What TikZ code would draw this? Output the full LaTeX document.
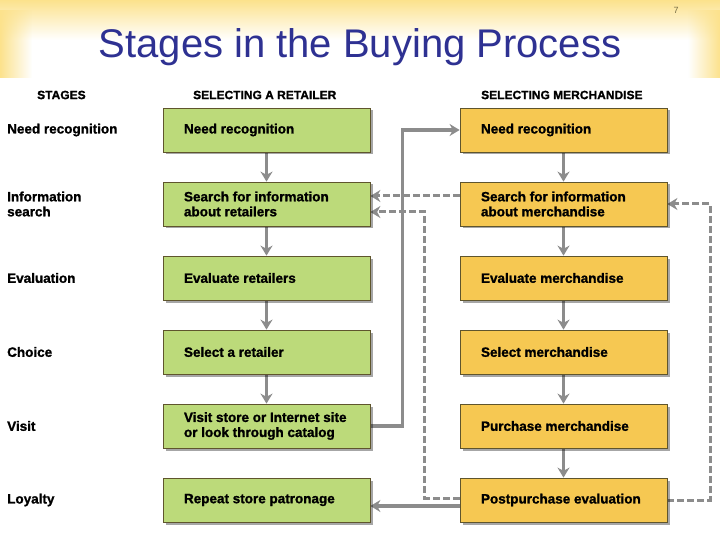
\documentclass[tikz,border=0pt]{standalone}
\usepackage{fontspec}
\setmainfont{Liberation Sans}[BoldFeatures={FakeBold=1.2}]
\usetikzlibrary{arrows.meta,shadows,fadings}
\pgfdeclarelayer{back}
\pgfdeclarelayer{bg}
\pgfsetlayers{back,bg,main}
\definecolor{boxgreen}{RGB}{188,218,122}
\definecolor{boxyellow}{RGB}{246,200,82}
\definecolor{boxline}{RGB}{95,85,45}
\definecolor{flowgray}{RGB}{140,140,140}
\definecolor{titleblue}{RGB}{46,49,146}
\definecolor{slideyellow}{RGB}{252,226,140}
\definecolor{pagecol}{RGB}{120,110,70}
\tikzfading[name=fadeout right, left color=transparent!0, right color=transparent!100]
\tikzfading[name=fadeout left, left color=transparent!100, right color=transparent!0]
\tikzset{
    every node/.style={inner sep=0pt, font=\bfseries\fontsize{13.5}{15}\selectfont}
}
\tikzset{
    stage/.style={anchor=west, align=left},
    head/.style={anchor=west, font=\bfseries\fontsize{12}{14}\selectfont},
    stepbox/.style={rectangle, draw=boxline, line width=0.8pt, minimum width=207pt,
        minimum height=44pt, text width=165pt, inner xsep=21pt, align=flush left,
        drop shadow={shadow xshift=2.5pt, shadow yshift=-2.5pt, fill=black, opacity=0.35}},
    retailer/.style={stepbox, fill=boxgreen},
    merch/.style={stepbox, fill=boxyellow},
    flow/.style={draw=flowgray, line width=3.5pt, -{Stealth[length=10pt, width=12pt]}},
    backflow/.style={draw=flowgray, line width=3pt, dash pattern=on 7pt off 3pt,
        -{Stealth[length=10pt, width=12pt]}}
}

\begin{document}
\begin{tikzpicture}[x=1pt, y=-1pt]
        \useasboundingbox (0,0) rectangle (720,540);
        \begin{pgfonlayer}{back}
                \fill[white] (0,0) rectangle (720,540);
                \shade[top color=slideyellow, bottom color=white] (0,0) rectangle (720,40);
                \fill[slideyellow, path fading=fadeout right] (0,10) rectangle (32,78);
                \fill[slideyellow, path fading=fadeout left] (688,10) rectangle (720,78);
        \end{pgfonlayer}

        \node (title) [font=\fontsize{40}{44}\selectfont, text=titleblue, anchor=base] at (360,58) {Stages in the Buying Process};
        \node (page) [font=\fontsize{9}{10}\selectfont, text=pagecol] at (676,10) {7};

        \node (h0) [head] at (37,95) {STAGES};
        \node (h1) [head] at (193,95) {SELECTING A RETAILER};
        \node (h2) [head] at (481,95) {SELECTING MERCHANDISE};

        \node (s1) [stage] at (7,130) {Need recognition};
        \node (s2) [stage] at (7,204) {Information\\search};
        \node (s3) [stage] at (7,278) {Evaluation};
        \node (s4) [stage] at (7,352) {Choice};
        \node (s5) [stage] at (7,426) {Visit};
        \node (s6) [stage] at (7,500) {Loyalty};

        \node (r1) [retailer] at (266.5,130) {Need recognition};
        \node (r2) [retailer] at (266.5,204) {Search for information\\about retailers};
        \node (r3) [retailer] at (266.5,278) {Evaluate retailers};
        \node (r4) [retailer] at (266.5,352) {Select a retailer};
        \node (r5) [retailer] at (266.5,426) {Visit store or Internet site\\or look through catalog};
        \node (r6) [retailer] at (266.5,500) {Repeat store patronage};

        \node (m1) [merch] at (563.5,130) {Need recognition};
        \node (m2) [merch] at (563.5,204) {Search for information\\about merchandise};
        \node (m3) [merch] at (563.5,278) {Evaluate merchandise};
        \node (m4) [merch] at (563.5,352) {Select merchandise};
        \node (m5) [merch] at (563.5,426) {Purchase merchandise};
        \node (m6) [merch] at (563.5,500) {Postpurchase evaluation};

        \begin{pgfonlayer}{bg}
                \draw (r1) edge [flow] (r2);
                \draw (r2) edge [flow] (r3);
                \draw (r3) edge [flow] (r4);
                \draw (r4) edge [flow] (r5);
                \draw (m1) edge [flow] (m2);
                \draw (m2) edge [flow] (m3);
                \draw (m3) edge [flow] (m4);
                \draw (m4) edge [flow] (m5);
                \draw (m5) edge [flow] (m6);
                % feedback loops
                \draw [backflow] ([yshift=8pt]m2.west) -- ([yshift=8pt]m2.west -| r2.east);
                \draw [backflow] ([yshift=2pt]m6.west) -- ++(-35,0) |- ([yshift=-8pt]r2.east);
                \draw [backflow] (m6.east) -- ++(43,0) |- (m2.east);
                \draw [flow] (r5.east) -- ++(32,0) |- (m1.west);
                \draw [flow] ([yshift=-6pt]m6.west) -- ([yshift=-6pt]m6.west -| r6.east);
        \end{pgfonlayer}
\end{tikzpicture}
\end{document}
